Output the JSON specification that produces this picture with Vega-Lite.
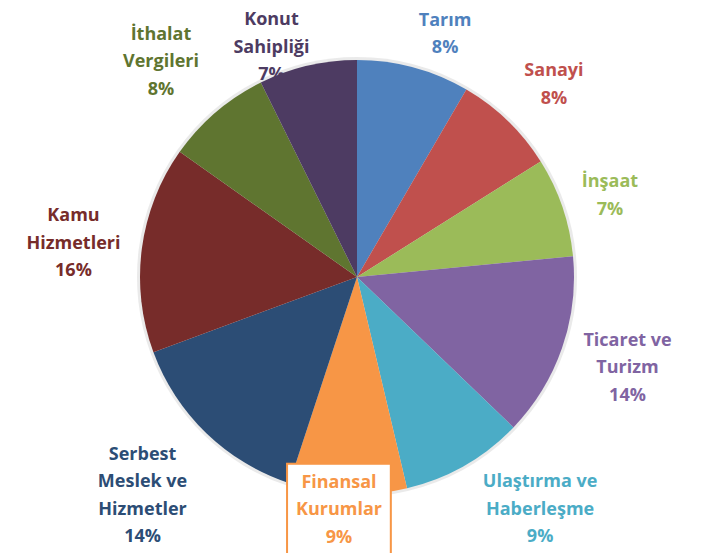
{
  "$schema": "https://vega.github.io/schema/vega-lite/v6.json",
  "autosize": "none",
  "width": 708,
  "height": 552,
  "padding": {"left": 3, "top": 1, "right": 0, "bottom": 0},
  "background": "white",
  "config": {"view": {"stroke": "#d4d4d4", "strokeWidth": 1.5}},
  "data": {
    "values": [
      {"i": 1, "name": "Tarım", "v": 8.4, "lines": ["Tarım", "8%"]},
      {"i": 2, "name": "Sanayi", "v": 7.65, "lines": ["Sanayi", "8%"]},
      {"i": 3, "name": "İnşaat", "v": 7.4, "lines": ["İnşaat", "7%"]},
      {"i": 4, "name": "Ticaret ve Turizm", "v": 13.7, "lines": ["Ticaret ve", "Turizm", "14%"]},
      {"i": 5, "name": "Ulaştırma ve Haberleşme", "v": 9.1, "lines": ["Ulaştırma ve", "Haberleşme", "9%"]},
      {"i": 6, "name": "Finansal Kurumlar", "v": 8.75, "lines": ["Finansal", "Kurumlar", "9%"]},
      {"i": 7, "name": "Serbest Meslek ve Hizmetler", "v": 14.3, "lines": ["Serbest", "Meslek ve", "Hizmetler", "14%"]},
      {"i": 8, "name": "Kamu Hizmetleri", "v": 15.4, "lines": ["Kamu", "Hizmetleri", "16%"]},
      {"i": 9, "name": "İthalat Vergileri", "v": 7.9, "lines": ["İthalat", "Vergileri", "8%"]},
      {"i": 10, "name": "Konut Sahipliği", "v": 7.3, "lines": ["Konut", "Sahipliği", "7%"]}
    ]
  },
  "encoding": {
    "theta": {"field": "v", "type": "quantitative", "stack": true},
    "order": {"field": "i", "type": "quantitative"},
    "color": {
      "field": "name",
      "type": "nominal",
      "legend": null,
      "scale": {
        "domain": ["Tarım", "Sanayi", "İnşaat", "Ticaret ve Turizm", "Ulaştırma ve Haberleşme", "Finansal Kurumlar", "Serbest Meslek ve Hizmetler", "Kamu Hizmetleri", "İthalat Vergileri", "Konut Sahipliği"],
        "range": ["#4F81BD", "#C0504D", "#9BBB59", "#8064A2", "#4BACC6", "#F79646", "#2C4D75", "#772C2A", "#5F7530", "#4D3B62"]
      }
    }
  },
  "layer": [
    {
      "mark": {"type": "arc", "outerRadius": 220, "opacity": 0.18},
      "encoding": {"color": {"value": "#8c8c8c"}}
    },
    {
      "mark": {"type": "arc", "outerRadius": 217}
    },
    {
      "mark": {
        "type": "text",
        "font": "DejaVu Sans",
        "fontSize": 136,
        "align": "center",
        "baseline": "middle",
        "fill": "white",
        "stroke": "#F79646",
        "strokeWidth": 2,
        "thetaOffset": 0.035
      },
      "encoding": {
        "radius": {"value": 234},
        "color": {"value": "white"},
        "text": {"condition": {"test": "datum.i === 6", "value": "■"}, "value": ""}
      }
    },
    {
      "mark": {
        "type": "text",
        "font": "Open Sans",
        "fontWeight": "bold",
        "fontSize": 18,
        "lineHeight": 27.5,
        "align": "center",
        "baseline": "middle",
        "thetaOffset": {"expr": "[0.0667,-0.0058,-0.0305,-0.104,-0.209,0.0449,0.112,0.0798,0.0277,-0.0923][datum.i-1]"}
      },
      "encoding": {
        "radius": {"value": {"expr": "[271.2,285,270.2,277.9,275.2,206.3,278.4,289.9,311.8,270.4][datum.i-1]"}},
        "text": {"field": "lines"}
      }
    }
  ]
}
